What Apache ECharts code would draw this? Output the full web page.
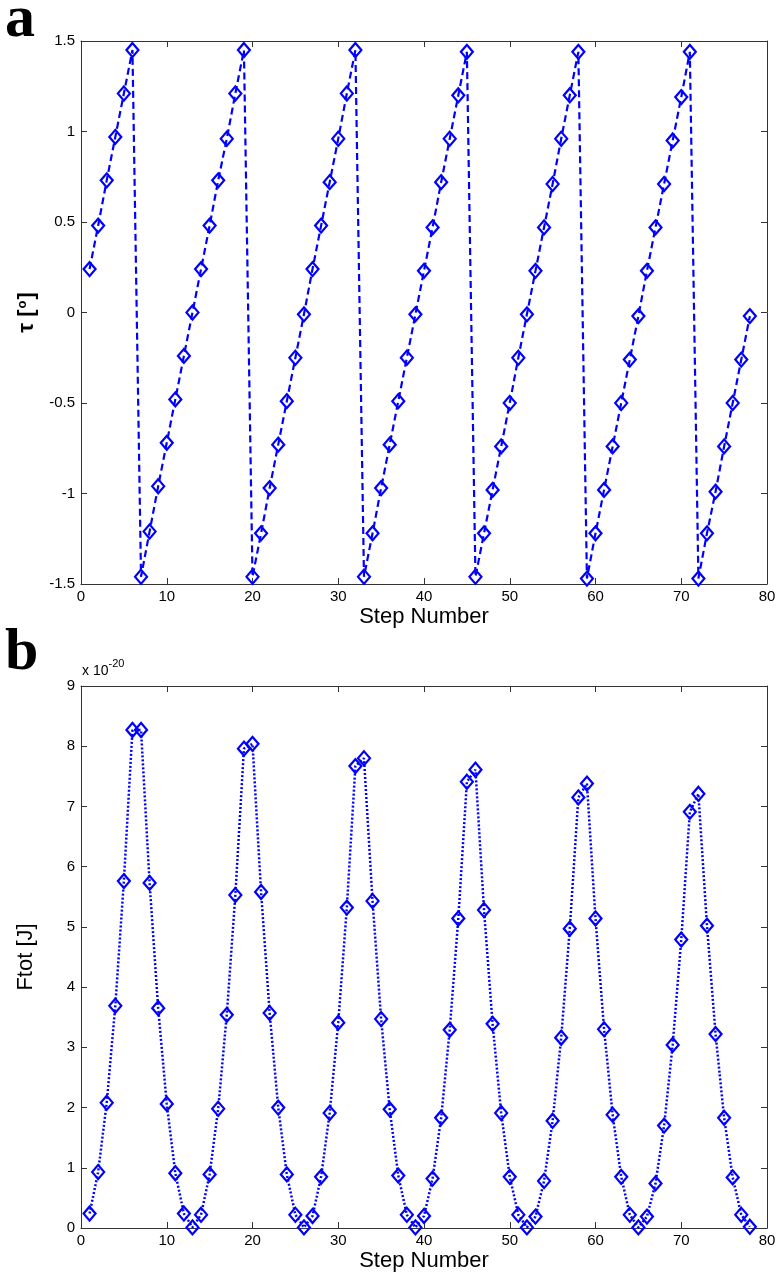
<!DOCTYPE html>
<html>
<head>
<meta charset="utf-8">
<script src="https://cdn.jsdelivr.net/npm/echarts@6/dist/echarts.min.js"></script>
<style>
html,body{margin:0;padding:0;background:#fff;}
#con{width:780px;height:1280px;}
</style>
</head>
<body>
<div id="con"></div>
<script>
// step numbers (x of both panels)
var steps = [1, 2, 3, 4, 5, 6, 7, 8, 9, 10, 11, 12, 13,
	14, 15, 16, 17, 18, 19, 20, 21, 22, 23, 24, 25, 26,
	27, 28, 29, 30, 31, 32, 33, 34, 35, 36, 37, 38, 39,
	40, 41, 42, 43, 44, 45, 46, 47, 48, 49, 50, 51, 52,
	53, 54, 55, 56, 57, 58, 59, 60, 61, 62, 63, 64, 65,
	66, 67, 68, 69, 70, 71, 72, 73, 74, 75, 76, 77, 78];

// panel a : tau [deg]
var tauValues = [0.24, 0.48, 0.73, 0.97, 1.21, 1.45, -1.46, -1.21, -0.96, -0.72, -0.48, -0.24, 0.00,
	0.24, 0.48, 0.73, 0.96, 1.21, 1.45, -1.46, -1.22, -0.97, -0.73, -0.49, -0.25, -0.01,
	0.24, 0.48, 0.72, 0.96, 1.21, 1.45, -1.46, -1.22, -0.97, -0.73, -0.49, -0.25, -0.01,
	0.23, 0.47, 0.72, 0.96, 1.20, 1.44, -1.46, -1.22, -0.98, -0.74, -0.50, -0.25, -0.01,
	0.23, 0.47, 0.71, 0.96, 1.20, 1.44, -1.47, -1.22, -0.98, -0.74, -0.50, -0.26, -0.02,
	0.23, 0.47, 0.71, 0.95, 1.19, 1.44, -1.47, -1.22, -0.99, -0.74, -0.50, -0.26, -0.02];

// panel b : Ftot [J], in units of 1e-20
var ftotValues = [0.24, 0.93, 2.08, 3.69, 5.76, 8.27, 8.27, 5.73, 3.65, 2.06, 0.91, 0.24, 0.01,
	0.22, 0.89, 1.98, 3.54, 5.53, 7.96, 8.04, 5.58, 3.57, 2.00, 0.89, 0.22, 0.01,
	0.20, 0.85, 1.91, 3.41, 5.32, 7.67, 7.80, 5.43, 3.47, 1.97, 0.87, 0.22, 0.01,
	0.20, 0.82, 1.83, 3.29, 5.14, 7.41, 7.61, 5.28, 3.39, 1.91, 0.85, 0.22, 0.01,
	0.19, 0.78, 1.78, 3.16, 4.97, 7.15, 7.38, 5.14, 3.30, 1.88, 0.85, 0.22, 0.01,
	0.19, 0.74, 1.70, 3.04, 4.79, 6.91, 7.21, 5.02, 3.22, 1.83, 0.84, 0.22, 0.02];

var xTicks = {min: 0, max: 80, interval: 10};
var tauTicks = {min: -1.5, max: 1.5, interval: 0.5};
var ftotTicks = {min: 0, max: 9, interval: 1};

var blue = '#0000ff';
var axisColor = '#333';
var font = '"Liberation Sans", Arial, sans-serif';

function pairs(xs, ys) {
	var out = [];
	for (var i = 0; i < xs.length; i++) {
		out.push([xs[i], ys[i]]);
	}
	return out;
}

// one framed axis, matlab style: ticks inside, box on 4 sides
function xAx(grid, pos, showLabel, name) {
	return {
		type: 'value', gridIndex: grid, position: pos,
		min: xTicks.min, max: xTicks.max, interval: xTicks.interval,
		axisLine: {show: true, onZero: false, lineStyle: {color: axisColor, width: 1}},
		axisTick: {show: true, inside: true, length: 6, lineStyle: {color: axisColor}},
		axisLabel: {show: showLabel, margin: 5, color: '#000', fontSize: 15, fontFamily: font,
			showMinLabel: true, showMaxLabel: true},
		splitLine: {show: false},
		name: name || '', nameLocation: 'middle', nameGap: 22,
		nameTextStyle: {color: '#000', fontSize: 22, fontFamily: font}
	};
}

function yAx(grid, pos, ticks, showLabel, name, nameStyle, gap) {
	return {
		type: 'value', gridIndex: grid, position: pos,
		min: ticks.min, max: ticks.max, interval: ticks.interval,
		axisLine: {show: true, onZero: false, lineStyle: {color: axisColor, width: 1}},
		axisTick: {show: true, inside: true, length: 6, lineStyle: {color: axisColor}},
		axisLabel: {show: showLabel, margin: 6, color: '#000', fontSize: 15, fontFamily: font,
			showMinLabel: true, showMaxLabel: true},
		splitLine: {show: false},
		name: name || '', nameLocation: 'middle', nameGap: gap || 40, nameRotate: 90,
		nameTextStyle: nameStyle || {}
	};
}

var myChart = echarts.init(document.getElementById('con'), null, {renderer: 'canvas'});

var option = {
	animation: false,
	backgroundColor: '#fff',
	grid: [
		{left: 81, top: 41, right: 13, height: 543, outerBoundsMode: 'none'},
		{left: 81, top: 686, right: 13, height: 542, outerBoundsMode: 'none'}
	],
	xAxis: [
		xAx(0, 'bottom', true, 'Step Number'),
		xAx(0, 'top', false),
		xAx(1, 'bottom', true, 'Step Number'),
		xAx(1, 'top', false)
	],
	yAxis: [
		yAx(0, 'left', tauTicks, true, '{t|τ [}{s|o}{t|]}', {
			rich: {
				t: {fontSize: 22, fontWeight: 'bold', color: '#000', fontFamily: font},
				s: {fontSize: 13, fontWeight: 'bold', color: '#000', fontFamily: font, verticalAlign: 'top', padding: [0, 1, 8, 1]}
			}
		}, 43),
		yAx(0, 'right', tauTicks, false),
		yAx(1, 'left', ftotTicks, true, 'Ftot [J]', {color: '#000', fontSize: 22, fontFamily: font}, 44),
		yAx(1, 'right', ftotTicks, false)
	],
	graphic: [
		{type: 'text', x: 5, y: -10, style: {text: 'a', font: 'bold 60px "Liberation Serif", "Times New Roman", serif', fill: '#000'}},
		{type: 'text', x: 5, y: 623, style: {text: 'b', font: 'bold 60px "Liberation Serif", "Times New Roman", serif', fill: '#000'}},
		{type: 'text', x: 82, y: 658, style: {
			text: '{n|x 10}{e|-20}',
			rich: {
				n: {fontSize: 14, fontFamily: font, fill: '#000', padding: [6, 0, 0, 0]},
				e: {fontSize: 11, fontFamily: font, fill: '#000', verticalAlign: 'top'}
			}
		}}
	],
	series: [
		{
			type: 'line', xAxisIndex: 0, yAxisIndex: 0,
			data: pairs(steps, tauValues),
			symbol: 'diamond', symbolSize: [12, 14], showAllSymbol: true,
			lineStyle: {color: blue, width: 2.2, type: [7, 4]},
			itemStyle: {color: 'rgba(0,0,0,0)', borderColor: blue, borderWidth: 2.2},
			emphasis: {disabled: true},
			clip: false
		},
		{
			type: 'line', xAxisIndex: 2, yAxisIndex: 2,
			data: pairs(steps, ftotValues),
			symbol: 'diamond', symbolSize: [12, 14], showAllSymbol: true,
			lineStyle: {color: blue, width: 2.5, type: [2, 2]},
			itemStyle: {color: 'rgba(0,0,0,0)', borderColor: blue, borderWidth: 2.2},
			emphasis: {disabled: true},
			clip: false
		}
	]
};

myChart.setOption(option);
window.onresize = myChart.resize;
</script>
</body>
</html>
